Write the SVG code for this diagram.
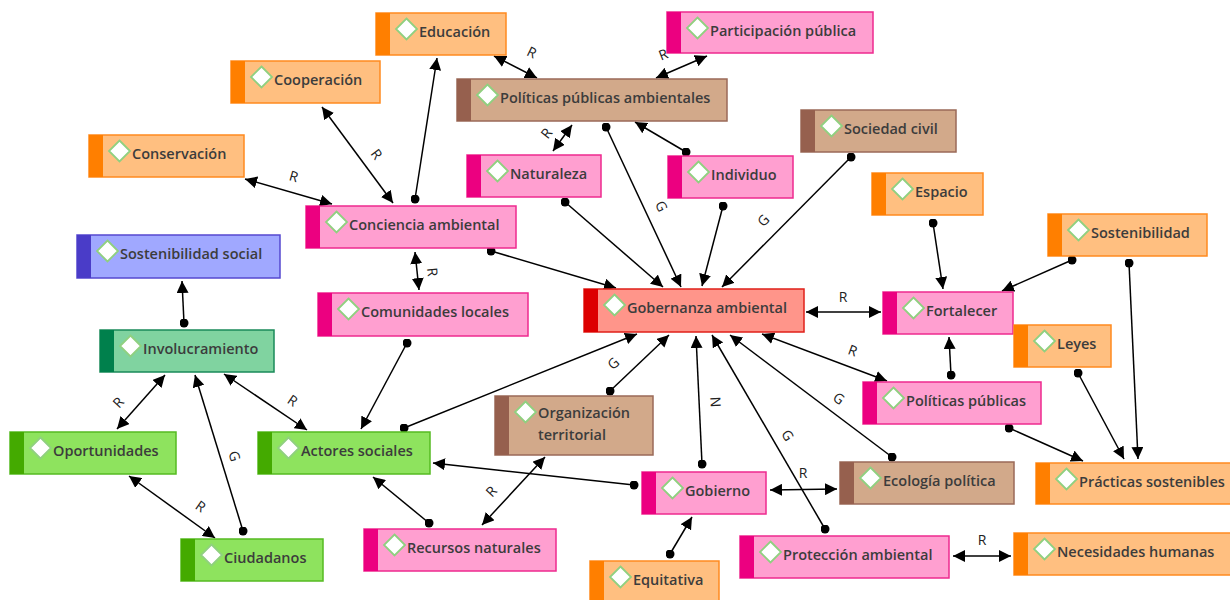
<svg xmlns="http://www.w3.org/2000/svg" xmlns:xlink="http://www.w3.org/1999/xlink" width="1230" height="600" viewBox="0 0 1230 600">
<style>
.box{stroke-width:1.5}
.node text{font-family:"Open Sans","Noto Sans",sans-serif;font-size:14.5px;font-weight:600;fill:#3c3c3c}
.orange .box{fill:#ffbf80;stroke:#ff8a1f}.orange .bar{fill:#ff7f00}
.pink .box{fill:#ff9fd0;stroke:#ee2a8f}.pink .bar{fill:#ec0080}
.brown .box{fill:#d2a98a;stroke:#9a6a58}.brown .bar{fill:#96604e}
.red .box{fill:#ff958a;stroke:#e0201a}.red .bar{fill:#dd0000}
.blue .box{fill:#a0a8ff;stroke:#5548d0}.blue .bar{fill:#4a3cc8}
.teal .box{fill:#80d3a0;stroke:#1a8a5a}.teal .bar{fill:#00804c}
.green .box{fill:#8ee35e;stroke:#55bb22}.green .bar{fill:#44aa00}
.links line{stroke:#000;stroke-width:1.5;fill:none}
.d{marker-start:url(#dot);marker-end:url(#arr)}
.b{marker-start:url(#arr);marker-end:url(#arr)}
.lbl{font-family:"Open Sans","Noto Sans",sans-serif;font-size:14px;fill:#222;text-anchor:middle;dominant-baseline:central}
</style>
<defs>
<marker id="arr" viewBox="0 0 12 12" refX="12" refY="6" markerWidth="12" markerHeight="12" markerUnits="userSpaceOnUse" orient="auto-start-reverse"><path d="M0,0 L12,6 L0,12 z" fill="#000"/></marker>
<marker id="dot" viewBox="0 0 10 10" refX="5" refY="5" markerWidth="9" markerHeight="9" markerUnits="userSpaceOnUse"><circle cx="5" cy="5" r="5" fill="#000"/></marker>
<path id="dm" d="M0,-10.5 L10.5,0 L0,10.5 L-10.5,0 z" fill="#fff" stroke="#90d080" stroke-width="1.8"/>
</defs>
<rect width="1230" height="600" fill="#fff"/>

<g class="links">
<line class="b" x1="494" y1="56" x2="537" y2="78"/>
<line class="b" x1="707" y1="56" x2="656" y2="78"/>
<line class="b" x1="322" y1="107" x2="393" y2="203"/>
<line class="b" x1="245" y1="179" x2="332" y2="204"/>
<line class="d" x1="415" y1="199" x2="437" y2="58"/>
<line class="b" x1="572" y1="125" x2="553" y2="151"/>
<line class="d" x1="606" y1="127" x2="681" y2="287"/>
<line class="d" x1="686" y1="152" x2="635" y2="122"/>
<line class="d" x1="565" y1="202" x2="663" y2="287"/>
<line class="d" x1="723" y1="206" x2="702" y2="286"/>
<line class="d" x1="851" y1="157" x2="722" y2="287"/>
<line class="d" x1="491" y1="251" x2="616" y2="288"/>
<line class="b" x1="415" y1="252" x2="419" y2="290"/>
<line class="d" x1="184" y1="323" x2="182" y2="281"/>
<line class="b" x1="165" y1="375" x2="117" y2="429"/>
<line class="d" x1="243" y1="531" x2="195" y2="375"/>
<line class="b" x1="224" y1="374" x2="307" y2="430"/>
<line class="b" x1="129" y1="476" x2="215" y2="538"/>
<line class="d" x1="407" y1="343" x2="361" y2="429"/>
<line class="d" x1="404" y1="428" x2="637" y2="334"/>
<line class="d" x1="610" y1="391" x2="669" y2="335"/>
<line class="d" x1="702" y1="464" x2="696" y2="336"/>
<line class="d" x1="825" y1="529" x2="712" y2="335"/>
<line class="d" x1="892" y1="457" x2="730" y2="335"/>
<line class="b" x1="806" y1="312" x2="881" y2="312"/>
<line class="b" x1="762" y1="334" x2="887" y2="381"/>
<line class="d" x1="933" y1="223" x2="943" y2="289"/>
<line class="d" x1="1072" y1="260" x2="1002" y2="291"/>
<line class="d" x1="951" y1="375" x2="949" y2="337"/>
<line class="d" x1="1129" y1="263" x2="1138" y2="459"/>
<line class="d" x1="1078" y1="373" x2="1124" y2="459"/>
<line class="d" x1="1009" y1="428" x2="1083" y2="461"/>
<line class="b" x1="770" y1="490" x2="837" y2="489"/>
<line class="b" x1="953" y1="556" x2="1011" y2="556"/>
<line class="d" x1="634" y1="485" x2="433" y2="463"/>
<line class="d" x1="429" y1="523" x2="373" y2="477"/>
<line class="b" x1="482" y1="525" x2="545" y2="457"/>
<line class="d" x1="670" y1="554" x2="692" y2="517"/>
<text class="lbl" transform="translate(532,52) rotate(26)">R</text>
<text class="lbl" transform="translate(663,54) rotate(-21)">R</text>
<text class="lbl" transform="translate(377,154) rotate(53)">R</text>
<text class="lbl" transform="translate(294,176) rotate(16)">R</text>
<text class="lbl" transform="translate(546,133) rotate(-52)">R</text>
<text class="lbl" transform="translate(662,206) rotate(65)">G</text>
<text class="lbl" transform="translate(763,220) rotate(-45)">G</text>
<text class="lbl" transform="translate(433,272) rotate(84)">R</text>
<text class="lbl" transform="translate(118,402) rotate(-47)">R</text>
<text class="lbl" transform="translate(235,456) rotate(73)">G</text>
<text class="lbl" transform="translate(293,400) rotate(34)">R</text>
<text class="lbl" transform="translate(201,506) rotate(35)">R</text>
<text class="lbl" transform="translate(613,363) rotate(-43)">G</text>
<text class="lbl" transform="translate(716,402) rotate(87)">N</text>
<text class="lbl" transform="translate(788,435) rotate(59)">G</text>
<text class="lbl" transform="translate(839,398) rotate(36)">G</text>
<text class="lbl" transform="translate(843,296)">R</text>
<text class="lbl" transform="translate(853,350) rotate(20)">R</text>
<text class="lbl" transform="translate(803,472)">R</text>
<text class="lbl" transform="translate(982,539)">R</text>
<text class="lbl" transform="translate(491,491) rotate(-47)">R</text>
</g>

<g id="n-educacion" class="node orange"><rect class="box" x="376" y="13" width="130" height="42"/><rect class="bar" x="376" y="13" width="14" height="42"/><use href="#dm" x="406.5" y="29"/><text x="419" y="37">Educación</text></g>
<g id="n-participacion" class="node pink"><rect class="box" x="667" y="12" width="206" height="41"/><rect class="bar" x="667" y="12" width="14" height="41"/><use href="#dm" x="697.5" y="28"/><text x="710" y="36">Participación pública</text></g>
<g id="n-cooperacion" class="node orange"><rect class="box" x="231" y="61" width="149" height="42"/><rect class="bar" x="231" y="61" width="14" height="42"/><use href="#dm" x="261.5" y="77"/><text x="274" y="85">Cooperación</text></g>
<g id="n-ppa" class="node brown"><rect class="box" x="457" y="79" width="270" height="42"/><rect class="bar" x="457" y="79" width="14" height="42"/><use href="#dm" x="487.5" y="95"/><text x="500" y="103">Políticas públicas ambientales</text></g>
<g id="n-conservacion" class="node orange"><rect class="box" x="89" y="135" width="155" height="42"/><rect class="bar" x="89" y="135" width="14" height="42"/><use href="#dm" x="119.5" y="151"/><text x="132" y="159">Conservación</text></g>
<g id="n-naturaleza" class="node pink"><rect class="box" x="467" y="155" width="134" height="42"/><rect class="bar" x="467" y="155" width="14" height="42"/><use href="#dm" x="497.5" y="171"/><text x="510" y="179">Naturaleza</text></g>
<g id="n-individuo" class="node pink"><rect class="box" x="668" y="156" width="125" height="42"/><rect class="bar" x="668" y="156" width="14" height="42"/><use href="#dm" x="698.5" y="172"/><text x="711" y="180">Individuo</text></g>
<g id="n-sociedad" class="node brown"><rect class="box" x="801" y="110" width="155" height="42"/><rect class="bar" x="801" y="110" width="14" height="42"/><use href="#dm" x="831.5" y="126"/><text x="844" y="134">Sociedad civil</text></g>
<g id="n-espacio" class="node orange"><rect class="box" x="872" y="173" width="111" height="42"/><rect class="bar" x="872" y="173" width="14" height="42"/><use href="#dm" x="902.5" y="189"/><text x="915" y="197">Espacio</text></g>
<g id="n-conciencia" class="node pink"><rect class="box" x="306" y="206" width="210" height="42"/><rect class="bar" x="306" y="206" width="14" height="42"/><use href="#dm" x="336.5" y="222"/><text x="349" y="230">Conciencia ambiental</text></g>
<g id="n-sostsocial" class="node blue"><rect class="box" x="77" y="235" width="203" height="43"/><rect class="bar" x="77" y="235" width="14" height="43"/><use href="#dm" x="107.5" y="251"/><text x="120" y="259">Sostenibilidad social</text></g>
<g id="n-sostenibilidad" class="node orange"><rect class="box" x="1048" y="214" width="159" height="42"/><rect class="bar" x="1048" y="214" width="14" height="42"/><use href="#dm" x="1078.5" y="230"/><text x="1091" y="238">Sostenibilidad</text></g>
<g id="n-comunidades" class="node pink"><rect class="box" x="318" y="293" width="210" height="43"/><rect class="bar" x="318" y="293" width="14" height="43"/><use href="#dm" x="348.5" y="309"/><text x="361" y="317">Comunidades locales</text></g>
<g id="n-gobernanza" class="node red"><rect class="box" x="584" y="289" width="220" height="43"/><rect class="bar" x="584" y="289" width="14" height="43"/><use href="#dm" x="614.5" y="305"/><text x="627" y="313">Gobernanza ambiental</text></g>
<g id="n-fortalecer" class="node pink"><rect class="box" x="883" y="292" width="130" height="42"/><rect class="bar" x="883" y="292" width="14" height="42"/><use href="#dm" x="913.5" y="308"/><text x="926" y="316">Fortalecer</text></g>
<g id="n-leyes" class="node orange"><rect class="box" x="1014" y="325" width="97" height="42"/><rect class="bar" x="1014" y="325" width="14" height="42"/><use href="#dm" x="1044.5" y="341"/><text x="1057" y="349">Leyes</text></g>
<g id="n-involucramiento" class="node teal"><rect class="box" x="100" y="330" width="174" height="42"/><rect class="bar" x="100" y="330" width="14" height="42"/><use href="#dm" x="130.5" y="346"/><text x="143" y="354">Involucramiento</text></g>
<g id="n-pp" class="node pink"><rect class="box" x="863" y="382" width="178" height="42"/><rect class="bar" x="863" y="382" width="14" height="42"/><use href="#dm" x="893.5" y="398"/><text x="906" y="406">Políticas públicas</text></g>
<g id="n-organizacion" class="node brown"><rect class="box" x="495" y="396" width="158" height="59"/><rect class="bar" x="495" y="396" width="14" height="59"/><use href="#dm" x="525.5" y="412"/><text x="538" y="418">Organización</text><text x="538" y="440">territorial</text></g>
<g id="n-oportunidades" class="node green"><rect class="box" x="10" y="432" width="166" height="42"/><rect class="bar" x="10" y="432" width="14" height="42"/><use href="#dm" x="40.5" y="448"/><text x="53" y="456">Oportunidades</text></g>
<g id="n-actores" class="node green"><rect class="box" x="258" y="432" width="172" height="42"/><rect class="bar" x="258" y="432" width="14" height="42"/><use href="#dm" x="288.5" y="448"/><text x="301" y="456">Actores sociales</text></g>
<g id="n-ecologia" class="node brown"><rect class="box" x="840" y="462" width="174" height="42"/><rect class="bar" x="840" y="462" width="14" height="42"/><use href="#dm" x="870.5" y="478"/><text x="883" y="486">Ecología política</text></g>
<g id="n-practicas" class="node orange"><rect class="box" x="1036" y="463" width="196" height="41"/><rect class="bar" x="1036" y="463" width="14" height="41"/><use href="#dm" x="1066.5" y="479"/><text x="1079" y="487">Prácticas sostenibles</text></g>
<g id="n-gobierno" class="node pink"><rect class="box" x="642" y="472" width="124" height="42"/><rect class="bar" x="642" y="472" width="14" height="42"/><use href="#dm" x="672.5" y="488"/><text x="685" y="496">Gobierno</text></g>
<g id="n-recursos" class="node pink"><rect class="box" x="364" y="529" width="192" height="42"/><rect class="bar" x="364" y="529" width="14" height="42"/><use href="#dm" x="394.5" y="545"/><text x="407" y="553">Recursos naturales</text></g>
<g id="n-ciudadanos" class="node green"><rect class="box" x="181" y="539" width="142" height="42"/><rect class="bar" x="181" y="539" width="14" height="42"/><use href="#dm" x="211.5" y="555"/><text x="224" y="563">Ciudadanos</text></g>
<g id="n-proteccion" class="node pink"><rect class="box" x="740" y="536" width="209" height="42"/><rect class="bar" x="740" y="536" width="14" height="42"/><use href="#dm" x="770.5" y="552"/><text x="783" y="560">Protección ambiental</text></g>
<g id="n-necesidades" class="node orange"><rect class="box" x="1014" y="533" width="218" height="42"/><rect class="bar" x="1014" y="533" width="14" height="42"/><use href="#dm" x="1044.5" y="549"/><text x="1057" y="557">Necesidades humanas</text></g>
<g id="n-equitativa" class="node orange"><rect class="box" x="590" y="561" width="129" height="42"/><rect class="bar" x="590" y="561" width="14" height="42"/><use href="#dm" x="620.5" y="577"/><text x="633" y="585">Equitativa</text></g>
</svg>
